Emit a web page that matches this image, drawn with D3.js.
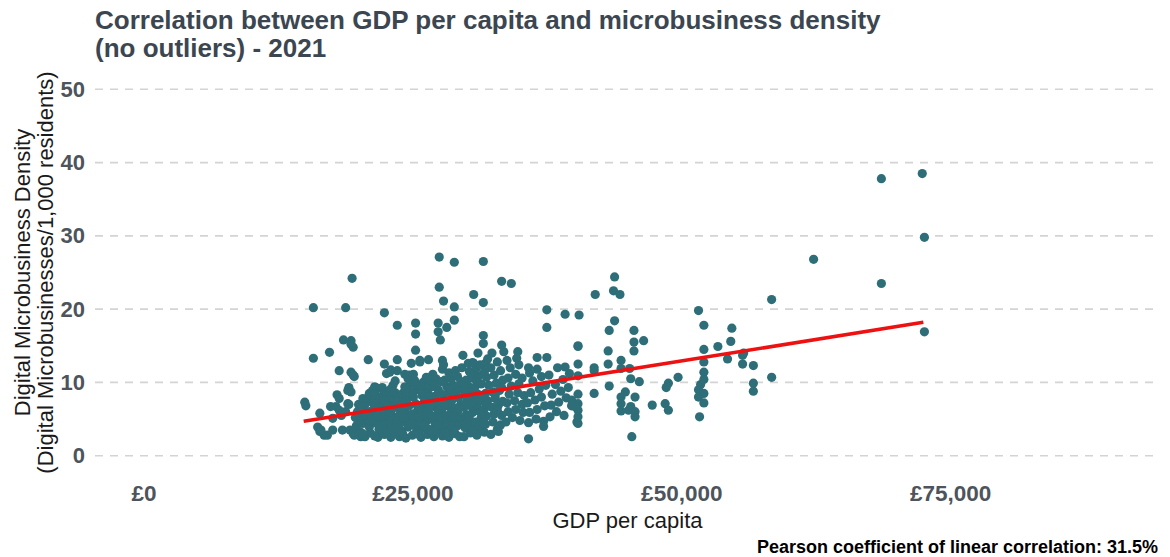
<!DOCTYPE html>
<html>
<head>
<meta charset="utf-8">
<script src="https://cdn.jsdelivr.net/npm/d3@7"></script>
<style>
  html, body { margin: 0; padding: 0; background: #ffffff; }
  svg { display: block; font-family: "Liberation Sans", Arial, Helvetica, sans-serif; }
</style>
</head>
<body>
<svg id="chart" width="1170" height="557"></svg>
<script>
// ---- Data (GDP per capita in £ thousands, density per 1,000 residents) ----
const titleLines = ["Correlation between GDP per capita and microbusiness density", "(no outliers) - 2021"];
const xTitle = "GDP per capita";
const yTitleLines = ["Digital Microbusiness Density", "(Digital Microbusinesses/1,000 residents)"];
const caption = "Pearson coefficient of linear correlation: 31.5%";
const gdpTicks = [0, 25, 50, 75];
const densityTicks = [0, 10, 20, 30, 40, 50];
const gdpLimits = [0, 90];
const densityLimits = [0, 50];

// fitted regression line end points
const fitGdp = [14.9, 72.5];
const fitDensity = [4.7, 18.2];

// sparse points on the left side (15k - 22k)
const leftPoints = [
  [15.0,7.3],[15.1,6.8],[15.8,20.2],[18.8,20.2],[19.4,24.2],[15.8,13.3],[17.3,14.1],
  [18.6,15.8],[19.3,15.7],[19.5,14.8],[19.3,15.2],[18.2,11.6],[19.3,11.4],[19.6,10.8],[19.5,11.0],
  [19.1,9.3],[19.3,8.7],[18.0,8.3],[18.2,7.8],[19.1,7.0],[17.4,6.7],[17.9,6.7],[18.2,6.2],
  [16.4,5.8],[17.6,5.1],[18.4,5.5],[18.8,6.0],[19.0,7.1],[19.0,8.9],
  [16.2,3.9],[16.4,3.3],[16.8,2.8],[17.1,2.8],[16.5,3.5],[17.6,3.5],[18.5,3.5],[19.2,3.5],[19.5,3.0],[20.2,2.6],
  [20.4,6.4],[20.6,5.8],[21.3,8.9],[21.6,9.3],[22.3,8.9],[21.5,9.4],[21.0,8.5],[21.8,8.0],[20.9,13.1]
];

// dense core, read band by band
const coreBandA = [
  [19.6,2.8],[20.1,3.3],[20.6,2.6],[21.1,3.1],[19.8,4.1],[20.4,4.4],[21.0,3.9],[21.4,4.6],[19.7,5.2],[20.2,5.0],
  [20.8,5.4],[21.3,5.1],[19.9,6.0],[20.5,6.3],[21.0,6.0],[21.5,6.6],[20.0,7.0],[20.7,7.2],[21.2,7.6],[20.4,7.8],[21.0,8.3],[21.6,8.0]
];
const coreBandB = [
  [21.8,2.5],[22.4,2.9],[23.0,2.5],[23.4,3.2],[21.9,3.6],[22.6,3.8],[23.2,4.0],[21.7,4.4],[22.3,4.7],[22.9,4.5],
  [23.5,4.9],[22.0,5.4],[22.6,5.6],[23.2,5.3],[21.8,6.2],[22.4,6.4],[23.0,6.1],[23.5,6.6],[22.1,7.1],[22.7,7.3],
  [23.3,7.0],[21.9,7.9],[22.5,8.1],[23.1,7.8],[22.8,8.8],[23.4,8.6],[22.2,9.3],[23.2,9.6]
];
const coreBandC = [
  [23.8,2.6],[24.4,2.4],[25.0,2.8],[25.4,3.3],[23.9,3.5],[24.6,3.9],[25.2,4.1],[24.0,4.6],[24.7,4.8],[25.3,5.0],
  [23.8,5.6],[24.4,5.8],[25.0,5.7],[25.5,6.2],[24.0,6.6],[24.7,6.8],[25.3,7.1],[23.9,7.5],[24.5,7.7],[25.1,8.0],
  [24.1,8.5],[24.8,8.8],[25.4,9.0],[24.3,9.4],[24.9,9.9],[25.5,9.6],[24.6,10.5],[25.2,10.3]
];
const coreBandD = [
  [25.8,2.5],[26.4,2.9],[27.0,2.6],[27.4,3.2],[25.9,3.7],[26.5,3.6],[27.1,4.0],[25.7,4.5],[26.3,4.7],[26.9,4.9],
  [27.5,4.6],[26.0,5.5],[26.6,5.7],[27.2,5.5],[25.8,6.4],[26.4,6.5],[27.0,6.7],[27.5,6.3],[26.1,7.3],[26.7,7.5],
  [27.3,7.2],[25.9,8.2],[26.5,8.4],[27.1,8.1],[26.2,9.1],[26.8,9.4],[27.4,9.0],[26.0,10.0],[26.6,10.2],[27.2,10.5],[26.9,11.1]
];
const coreBandE = [
  [27.8,2.7],[28.4,2.5],[29.0,3.0],[27.9,3.8],[28.5,3.5],[29.2,4.1],[27.7,4.6],[28.3,4.8],[28.9,4.5],[29.4,5.1],
  [28.0,5.5],[28.6,5.8],[29.2,5.9],[27.8,6.5],[28.4,6.7],[29.0,6.5],[29.5,7.0],[28.1,7.4],[28.7,7.6],[29.3,7.9],
  [27.9,8.3],[28.5,8.6],[29.1,8.7],[28.2,9.4],[28.8,9.6],[29.4,9.3],[28.0,10.3],[28.6,10.5],[29.2,10.8],[28.4,11.3],[29.0,11.6]
];
const coreBandF = [
  [29.8,2.6],[30.4,3.1],[31.0,2.8],[29.9,3.8],[30.6,4.0],[31.2,3.7],[29.7,4.7],[30.3,4.9],[30.9,4.6],[31.4,5.2],
  [30.0,5.6],[30.6,5.9],[31.2,6.1],[29.8,6.6],[30.4,6.8],[31.0,6.9],[30.1,7.6],[30.7,7.8],[31.3,7.5],[29.9,8.5],
  [30.5,8.7],[31.1,8.4],[30.2,9.5],[30.8,9.3],[31.4,9.8],[30.0,10.3],[30.6,10.6],[31.2,10.9],[30.3,11.5],[30.9,11.8],[31.3,12.4]
];
const coreBandG = [
  [31.7,3.2],[32.3,2.9],[32.9,3.6],[31.8,4.3],[32.5,4.6],[33.2,4.2],[31.9,5.4],[32.6,5.7],[33.3,5.5],[31.7,6.4],
  [32.4,6.6],[33.0,6.9],[32.0,7.5],[32.7,7.8],[33.4,7.4],[31.8,8.5],[32.5,8.7],[33.1,8.9],[32.1,9.6],[32.8,9.9],
  [33.4,10.3],[31.9,10.7],[32.6,11.0],[33.2,11.6],[32.3,12.0],[31.8,12.6],[32.9,12.8]
];
const coreBandH = [
  [33.7,4.6],[34.3,5.2],[35.0,4.8],[33.9,6.0],[34.6,6.3],[35.3,5.9],[33.8,7.2],[34.5,7.5],[35.2,7.0],[34.0,8.4],
  [34.8,8.6],[35.4,8.2],[34.2,9.5],[34.9,9.8],[33.9,10.6],[34.6,11.1],[35.2,10.6],[34.1,12.0],[34.9,12.4],[33.8,13.0]
];
const coreBandI = [
  [35.8,4.5],[36.5,5.0],[37.2,4.7],[35.9,5.9],[36.6,6.3],[37.3,6.8],[35.7,7.2],[36.4,7.6],[37.0,8.0],[36.0,8.6],
  [36.8,9.1],[37.4,9.6],[36.2,10.2],[37.0,10.8],[35.9,11.3],[36.6,11.8]
];
const coreBandJ = [
  [37.8,5.3],[38.4,6.0],[39.1,5.5],[37.9,6.9],[38.6,7.3],[39.3,7.9],[38.0,8.4],[38.8,8.8],[39.5,9.3],[38.3,9.7],
  [39.0,10.4],[37.7,11.0],[39.6,11.2],[38.5,12.0],[39.8,6.8]
];
// further points inside the solid core
const coreFill = [
  [20.4,3.0],[21.5,2.7],[22.7,3.2],[24.1,3.0],[25.6,2.9],[26.8,3.3],[28.1,3.1],[29.4,2.6],[30.7,3.5],
  [20.0,4.7],[21.1,4.9],[22.2,4.2],[23.6,4.3],[24.9,4.4],[26.1,4.1],[27.4,4.2],[28.6,4.1],[30.0,4.3],[31.6,4.5],
  [20.6,5.8],[21.7,5.6],[22.9,5.9],[24.2,5.2],[25.6,5.3],[26.9,5.3],[27.6,5.2],[28.9,5.3],[30.3,5.4],[31.5,6.0],[32.9,6.2],
  [20.3,6.8],[21.4,7.1],[22.7,6.7],[24.2,7.1],[25.6,6.8],[26.7,6.9],[28.0,6.9],[29.3,6.4],[30.6,7.3],[31.9,7.0],
  [21.5,8.6],[22.3,7.6],[23.7,8.2],[25.0,8.5],[26.2,8.0],[27.6,8.5],[28.9,8.0],[30.2,8.0],[31.5,8.0],[32.7,8.2],
  [23.0,9.1],[24.5,9.0],[25.8,9.4],[27.1,9.7],[28.5,9.1],[29.8,9.2],[31.0,10.0],[33.3,9.3],
  [25.0,10.8],[26.3,10.7],[27.7,10.1],[29.5,10.1],[30.5,11.1],[31.7,11.5],[27.8,11.8],[29.6,12.0],[30.6,12.7],[32.0,13.2]
];

// scattered points above the core (22k - 41k)
const upperPoints = [
  [22.4,19.5],[23.6,17.8],[25.3,18.1],[25.3,16.6],[27.4,18.1],[28.2,17.5],[27.4,16.9],[27.6,15.8],
  [27.5,27.1],[28.9,26.4],[31.6,26.5],[33.3,23.8],[34.2,23.5],[30.7,22.0],[31.6,20.9],[27.9,21.1],[27.5,23.0],
  [28.9,20.3],[28.9,18.5],[37.5,19.9],[39.2,19.3],[37.5,17.5],
  [23.6,13.1],[25.3,14.4],[22.4,12.5],[24.9,12.6],[25.7,13.0],[26.5,13.1],[22.6,11.2],[23.0,11.7],[23.6,11.6],
  [24.3,11.1],[25.1,11.1],[23.4,10.2],[22.9,11.4],[24.7,11.0],[25.7,12.8],[27.8,13.0],[27.9,12.4],[30.2,12.6],
  [31.6,16.4],[31.6,15.3],[31.1,14.0],[32.4,14.0],[33.3,15.1],[33.5,14.2],[34.8,14.2],[34.7,13.3],
  [36.6,13.4],[37.5,13.4],[40.4,15.0],[39.2,12.1],[35.8,12.0],[29.7,13.7],[30.7,12.6],
  [35.8,2.3],[33.0,3.9],[33.0,3.3],[37.2,4.0],[40.3,4.6]
];

// points between 40k and 60k
const midRightPoints = [
  [43.8,24.4],[43.7,22.5],[44.3,22.0],[42.0,22.0],[40.5,19.2],[51.6,19.8],[58.4,21.3],[43.8,18.4],[43.3,17.1],
  [45.6,17.1],[52.1,17.8],[54.7,17.4],[45.6,15.5],[46.5,15.7],[40.4,14.9],[43.2,14.3],[45.6,14.3],[52.1,14.5],
  [53.4,14.9],[54.6,15.6],[54.3,13.2],[55.7,13.7],[55.7,12.5],[56.7,12.3],[58.4,10.7],[40.4,12.5],[43.2,12.5],
  [44.4,13.0],[44.4,11.9],[41.9,12.0],[41.9,11.6],[45.2,11.9],[52.1,12.8],[52.1,11.4],[52.1,10.4],[51.8,9.7],
  [51.6,9.0],[51.6,8.0],[52.1,8.5],[52.1,7.2],[51.7,5.3],[49.7,10.7],[48.8,9.9],[48.6,9.3],[48.5,7.1],[48.8,6.2],
  [47.3,6.9],[56.7,9.9],[56.7,8.8],[46.1,10.1],[45.3,10.5],[43.3,9.5],[41.9,8.5],[40.4,10.9],[40.4,8.4],[40.4,7.1],
  [40.4,6.2],[40.4,5.3],[40.4,4.4],[40.1,6.7],[39.8,7.6],[44.4,8.0],[44.8,8.7],[44.4,7.1],[44.4,6.1],[45.3,6.7],
  [45.7,8.0],[45.7,6.0],[45.7,5.3],[45.4,2.6],[45.1,6.2],[55.8,14.0]
];

// far right points
const farRightPoints = [
  [68.6,37.8],[72.4,38.5],[72.6,29.8],[62.3,26.8],[68.6,23.5],[72.6,16.9]
];

// ---- Chart ----
const points = [].concat(leftPoints, coreBandA, coreBandB, coreBandC, coreBandD, coreBandE,
  coreBandF, coreBandG, coreBandH, coreBandI, coreBandJ, coreFill, upperPoints, midRightPoints, farRightPoints);

const svg = d3.select("#chart");
const W = 1170, H = 557;
const margin = { left: 95, right: 10, top: 71, bottom: 83 };
const plotR = W - margin.right, plotB = H - margin.bottom;

const expand = (lim) => { const p = (lim[1] - lim[0]) * 0.05; return [lim[0] - p, lim[1] + p]; };
const x = d3.scaleLinear().domain(expand(gdpLimits)).range([margin.left, plotR]);
const y = d3.scaleLinear().domain(expand(densityLimits)).range([plotB, margin.top]);

const gridColor = "#d4d4d4";
const tickColor = "#4d545b";
const titleColor = "#3b4651";
const pointColor = "#2e6e78";
const fontFam = "Liberation Sans, Arial, sans-serif";

// horizontal dashed gridlines
svg.append("g").selectAll("line").data(densityTicks).join("line")
  .attr("x1", margin.left).attr("x2", plotR)
  .attr("y1", d => y(d)).attr("y2", d => y(d))
  .attr("stroke", gridColor).attr("stroke-width", 1.6)
  .attr("stroke-dasharray", "8,7");

// y axis
const yAxis = d3.axisLeft(y).tickValues(densityTicks).tickSize(0).tickPadding(0).tickFormat(d3.format("d"));
const gy = svg.append("g").attr("transform", `translate(${margin.left - 10},0)`).call(yAxis);
gy.select(".domain").remove();
gy.selectAll("text").attr("font-size", 22).attr("font-weight", "bold").attr("fill", tickColor)
  .attr("font-family", fontFam);

// x axis
const fmt = d3.format(",");
const xAxis = d3.axisBottom(x).tickValues(gdpTicks).tickSize(0).tickPadding(0)
  .tickFormat(d => "£" + fmt(d * 1000));
const gx = svg.append("g").attr("transform", `translate(0,${plotB + 11})`).call(xAxis);
gx.select(".domain").remove();
gx.selectAll("text").attr("font-size", 22.5).attr("font-weight", "bold").attr("fill", tickColor)
  .attr("font-family", fontFam);

// points
svg.append("g").selectAll("circle").data(points).join("circle")
  .attr("cx", d => x(d[0])).attr("cy", d => y(d[1])).attr("r", 4.6)
  .attr("fill", pointColor);

// regression line
svg.append("line")
  .attr("x1", x(fitGdp[0])).attr("y1", y(fitDensity[0]))
  .attr("x2", x(fitGdp[1])).attr("y2", y(fitDensity[1]))
  .attr("stroke", "#ee1111").attr("stroke-width", 3.6).attr("stroke-linecap", "butt");

// title
const title = svg.append("text").attr("x", margin.left).attr("fill", titleColor)
  .attr("font-size", 26).attr("font-weight", "bold");
titleLines.forEach((t, i) => title.append("tspan").attr("x", margin.left).attr("y", 29 + i * 28).text(t));

// axis titles
svg.append("text").attr("x", (margin.left + plotR) / 2).attr("y", 528)
  .attr("text-anchor", "middle").attr("font-size", 22).attr("fill", "#1a1a1a").text(xTitle);

const yt = svg.append("text").attr("transform", `translate(0,${(margin.top + plotB) / 2}) rotate(-90)`)
  .attr("text-anchor", "middle").attr("font-size", 22).attr("fill", "#1a1a1a");
yTitleLines.forEach((t, i) => yt.append("tspan").attr("x", 0).attr("y", 30 + i * 23).text(t));

// caption
svg.append("text").attr("x", 1158).attr("y", 553).attr("text-anchor", "end")
  .attr("font-size", 18).attr("font-weight", "bold").attr("fill", "#000").text(caption);
</script>
</body>
</html>
